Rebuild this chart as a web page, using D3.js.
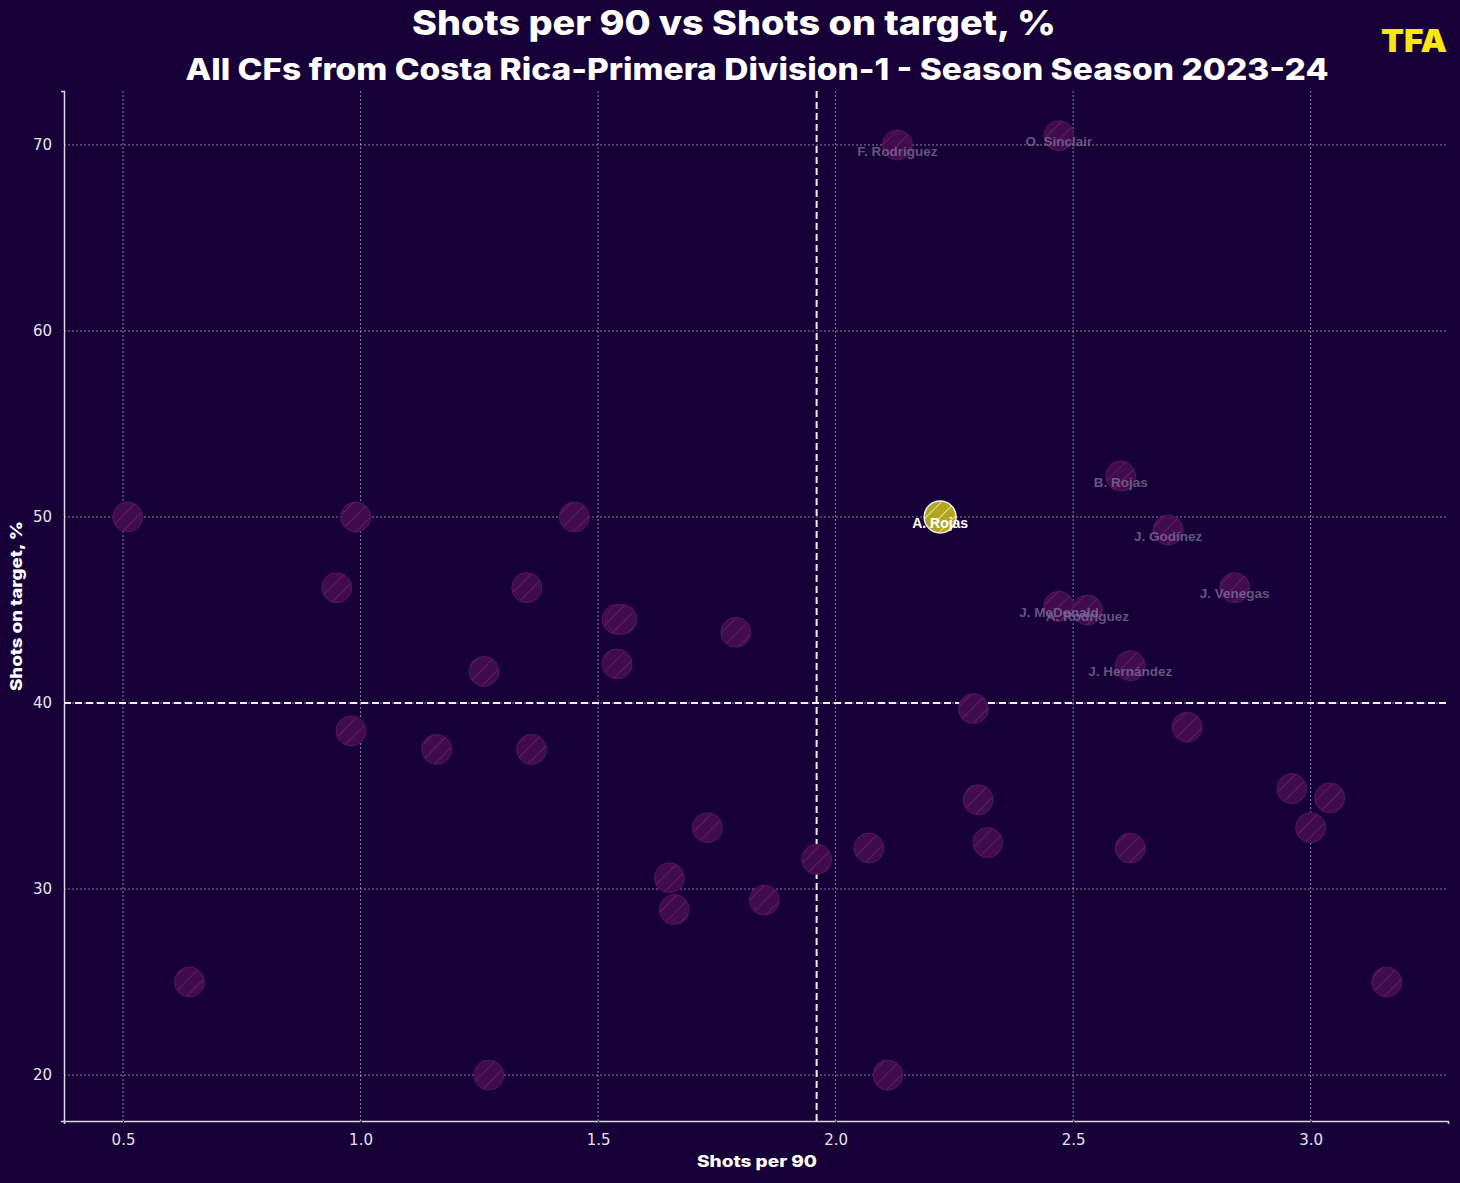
<!DOCTYPE html>
<html>
<head>
<meta charset="utf-8">
<script src="https://cdn.jsdelivr.net/npm/d3@7"></script>
<style>
  body { margin: 0; background: #170038; }
  svg { display: block; }
</style>
</head>
<body>
<div id="chart"></div>
<script>
// data
var shotsPer90 = [0.51, 0.64, 0.95, 0.99, 0.98, 1.16, 1.26, 1.27, 1.35, 1.36, 1.45, 1.54, 1.54, 1.55,
                  1.65, 1.66, 1.73, 1.79, 1.85, 1.96, 2.07, 2.11, 2.13, 2.22, 2.29, 2.30, 2.32,
                  2.47, 2.47, 2.53, 2.60, 2.62, 2.62, 2.70, 2.74, 2.84, 2.96, 3.00, 3.04, 3.16];
var onTarget   = [50.0, 25.0, 46.2, 50.0, 38.5, 37.5, 41.7, 20.0, 46.2, 37.5, 50.0, 42.1, 44.5, 44.5,
                  30.6, 28.9, 33.3, 43.8, 29.4, 31.6, 32.2, 20.0, 70.0, 50.0, 39.7, 34.8, 32.5,
                  70.5, 45.2, 45.0, 52.2, 42.0, 32.2, 49.3, 38.7, 46.2, 35.4, 33.3, 34.9, 25.0];
var playerNames = ["", "", "", "", "", "", "", "", "", "", "", "", "", "",
                   "", "", "", "", "", "", "", "", "F. Rodriguez", "A. Rojas", "", "", "",
                   "O. Sinclair", "J. McDonald", "A. Rodriguez", "B. Rojas", "J. Hernández", "", "J. Godínez", "", "J. Venegas", "", "", "", ""];
var highlighted = "A. Rojas";
var meanX = 1.96, meanY = 40;
var xTicks = [0.5, 1.0, 1.5, 2.0, 2.5, 3.0];
var yTicks = [20, 30, 40, 50, 60, 70];

var W = 1460, H = 1183;
var margin = {top: 91, right: 12, bottom: 62, left: 64};

var svg = d3.select("#chart").append("svg")
    .attr("width", W).attr("height", H);

svg.append("rect").attr("width", W).attr("height", H).attr("fill", "#170038");

var defs = svg.append("defs");
function hatch(id, bg, line, op, step) {
  var p = defs.append("pattern")
      .attr("id", id)
      .attr("patternUnits", "userSpaceOnUse")
      .attr("width", step).attr("height", step)
      .attr("patternTransform", "rotate(45)");
  p.append("rect").attr("width", step).attr("height", step).attr("fill", bg);
  p.append("line").attr("x1", 0).attr("y1", 0).attr("x2", 0).attr("y2", step)
      .attr("stroke", line).attr("stroke-width", 2).attr("stroke-opacity", op);
}
hatch("hatchPlain", "#410c4d", "#661c68", 0.9, 11);
hatch("hatchHi", "#b3a51e", "#f0eba0", 0.9, 10);

var x = d3.scaleLinear().domain([0.3758, 3.289]).range([margin.left, W - margin.right]);
var y = d3.scaleLinear().domain([17.53, 72.9]).range([H - margin.bottom, margin.top]);

// grid
svg.append("g").selectAll("line").data(xTicks).join("line")
    .attr("x1", d => x(d)).attr("x2", d => x(d))
    .attr("y1", margin.top).attr("y2", H - margin.bottom)
    .attr("stroke", "#d8d0e8").attr("stroke-opacity", 0.6)
    .attr("stroke-width", 1).attr("stroke-dasharray", "2,2");
svg.append("g").selectAll("line").data(yTicks).join("line")
    .attr("x1", margin.left).attr("x2", W - margin.right)
    .attr("y1", d => y(d)).attr("y2", d => y(d))
    .attr("stroke", "#d8d0e8").attr("stroke-opacity", 0.6)
    .attr("stroke-width", 1).attr("stroke-dasharray", "2,2");

// axes
var xAxis = svg.append("g")
    .attr("transform", "translate(0," + (H - margin.bottom) + ")")
    .call(d3.axisBottom(x).tickValues(xTicks).tickFormat(d3.format(".1f")).tickSize(3).tickPadding(10));
var yAxis = svg.append("g")
    .attr("transform", "translate(" + margin.left + ",0)")
    .call(d3.axisLeft(y).tickValues(yTicks).tickSize(3).tickPadding(9));
[xAxis, yAxis].forEach(function(g) {
  g.select(".domain").attr("stroke", "#d8d4e0").attr("stroke-width", 1.5);
  g.selectAll(".tick line").attr("stroke", "#000");
  g.selectAll(".tick text").attr("fill", "#e6e2ee")
      .style("font-family", "DejaVu Sans").style("font-size", "15px");
});

// mean lines
svg.append("line")
    .attr("x1", x(meanX)).attr("x2", x(meanX))
    .attr("y1", margin.top).attr("y2", H - margin.bottom)
    .attr("stroke", "#f4f0f8").attr("stroke-width", 2).attr("stroke-dasharray", "7,4");
svg.append("line")
    .attr("x1", margin.left).attr("x2", W - margin.right)
    .attr("y1", y(meanY)).attr("y2", y(meanY))
    .attr("stroke", "#f4f0f8").attr("stroke-width", 2).attr("stroke-dasharray", "7,4");

var data = shotsPer90.map((d, i) => ({x: d, y: onTarget[i], name: playerNames[i]}));
var plain = data.filter(d => d.name !== highlighted);
var hi = data.filter(d => d.name === highlighted);

svg.append("g").selectAll("circle").data(plain).join("circle")
    .attr("cx", d => x(d.x)).attr("cy", d => y(d.y)).attr("r", 15)
    .attr("fill", "url(#hatchPlain)")
    .attr("stroke", "#521660").attr("stroke-width", 1);

svg.append("g").selectAll("text").data(plain.filter(d => d.name)).join("text")
    .attr("x", d => x(d.x)).attr("y", d => y(d.y) + 7)
    .attr("text-anchor", "middle").attr("dominant-baseline", "middle")
    .attr("fill", "#7d7298").attr("fill-opacity", 0.75)
    .style("font-family", "Liberation Sans, Arial, sans-serif")
    .style("font-weight", "bold").style("font-size", "13.5px")
    .text(d => d.name);

svg.append("g").selectAll("circle").data(hi).join("circle")
    .attr("cx", d => x(d.x)).attr("cy", d => y(d.y)).attr("r", 16)
    .attr("fill", "url(#hatchHi)")
    .attr("stroke", "#f2eef6").attr("stroke-width", 1.5);

svg.append("g").selectAll("text").data(hi).join("text")
    .attr("x", d => x(d.x)).attr("y", d => y(d.y) + 7)
    .attr("text-anchor", "middle").attr("dominant-baseline", "middle")
    .attr("fill", "#ffffff")
    .style("font-family", "Liberation Sans, Arial, sans-serif")
    .style("font-weight", "bold").style("font-size", "14px")
    .text(d => d.name);

// titles
function bigText(txt, cx, cy, size, len, weight, color) {
  return svg.append("text")
    .attr("x", cx).attr("y", cy)
    .attr("text-anchor", "middle").attr("dominant-baseline", "middle")
    .attr("fill", color || "#ffffff")
    .attr("textLength", len).attr("lengthAdjust", "spacingAndGlyphs")
    .style("font-family", "Inter, Roboto, sans-serif").style("font-weight", weight || 800)
    .style("font-size", size + "px")
    .text(txt);
}
bigText("Shots per 90 vs Shots on target, %", 734, 26, 34, 644);
bigText("All CFs from Costa Rica-Primera Division-1 - Season Season 2023-24", 757, 72, 30, 1143);
bigText("TFA", 1414, 43, 32, 66, 900, "#f7e80f");

// axis titles
bigText("Shots per 90", 757, 1163, 16, 120);
bigText("Shots on target, %", 0, 0, 16, 170)
    .attr("x", null).attr("y", null)
    .attr("transform", "translate(18,606) rotate(-90)");
</script>
</body>
</html>
